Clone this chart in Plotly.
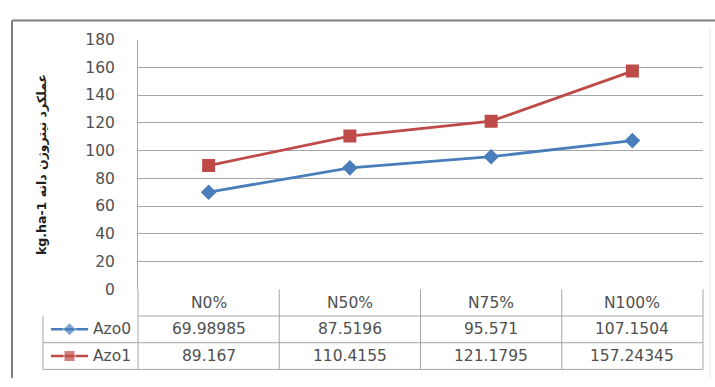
import plotly.graph_objects as go

# Chart data
categories = ["N0%", "N50%", "N75%", "N100%"]
azo0 = [69.98985, 87.5196, 95.571, 107.1504]
azo1 = [89.167, 110.4155, 121.1795, 157.24345]
series_names = ["Azo0", "Azo1"]
y_ticks = [0, 20, 40, 60, 80, 100, 120, 140, 160, 180]
y_title = "kg.ha-1 عملکرد نیتروژن دانه"

W, H = 715, 387
BLUE = "#4A7EBB"
RED = "#BE4B48"
GRID = "#A6A6A6"
TEXT = "#505050"
FONT = "DejaVu Sans"


def px(x):
    return x / W


def py(y):
    return 1 - y / H


# plot area in pixels
PL, PR, PT, PB = 138, 703, 32, 294
# table rows
ROW_Y = [294, 322, 350, 378]
LABEL_L = 43

fig = go.Figure()

series = [(azo0, BLUE, "diamond", 12), (azo1, RED, "square", 13)]
for name, (vals, color, sym, size) in zip(series_names, series):
    fig.add_trace(go.Scatter(
        x=list(range(len(categories))), y=vals, name=name,
        mode="lines+markers",
        line=dict(color=color, width=2.8),
        marker=dict(symbol=sym, size=size, color=color,
                    line=dict(color=color, width=0)),
        showlegend=False, hoverinfo="skip",
    ))

# legend keys inside the table label column (own axes)
for i, (name, (vals, color, sym, size)) in enumerate(zip(series_names, series)):
    fig.add_trace(go.Scatter(
        x=[0, 1, 2], y=[i, i, i], mode="lines+markers",
        line=dict(color=color, width=2.5),
        marker=dict(symbol=sym, size=[0, size - 2, 0], color=color),
        xaxis="x2", yaxis="y2", showlegend=False, hoverinfo="skip",
    ))

shapes = []
# outer frame
shapes.append(dict(type="line", xref="paper", yref="paper",
                   x0=px(12), x1=1, y0=py(12), y1=py(12),
                   line=dict(color="#7F7F7F", width=2)))
shapes.append(dict(type="line", xref="paper", yref="paper",
                   x0=px(12), x1=px(12), y0=py(12), y1=0,
                   line=dict(color="#7F7F7F", width=2)))
shapes.append(dict(type="line", xref="paper", yref="paper",
                   x0=px(710), x1=px(710), y0=py(20), y1=0,
                   line=dict(color="#E4E4E4", width=1)))

# table grid
tcol = dict(color=GRID, width=1)
shapes.append(dict(type="line", xref="paper", yref="paper",
                   x0=px(PL), x1=px(PR), y0=py(ROW_Y[1]), y1=py(ROW_Y[1]), line=tcol))
for ry in ROW_Y[2:]:
    shapes.append(dict(type="line", xref="paper", yref="paper",
                       x0=px(LABEL_L), x1=px(PR), y0=py(ry), y1=py(ry), line=tcol))
shapes.append(dict(type="line", xref="paper", yref="paper",
                   x0=px(LABEL_L), x1=px(LABEL_L), y0=py(ROW_Y[1]), y1=py(ROW_Y[3]), line=tcol))
for k in range(len(categories) + 1):
    xk = PL + (PR - PL) * k / len(categories)
    shapes.append(dict(type="line", xref="paper", yref="paper",
                       x0=px(xk), x1=px(xk), y0=py(ROW_Y[0]), y1=py(ROW_Y[3]), line=tcol))

annotations = []
tf = dict(family=FONT, size=15.5, color=TEXT)
row_centers = [(ROW_Y[i] + ROW_Y[i + 1]) / 2 for i in range(3)]
for i, cat in enumerate(categories):
    for r, txt in enumerate([cat, str(azo0[i]), str(azo1[i])]):
        annotations.append(dict(x=i, y=py(row_centers[r]), xref="x", yref="paper",
                                text=txt, showarrow=False, font=tf,
                                xanchor="center", yanchor="middle"))
for j, name in enumerate(series_names):
    annotations.append(dict(x=px(PL - 5), y=py(row_centers[j + 1]), xref="paper", yref="paper",
                            text=name, showarrow=False, xanchor="right",
                            yanchor="middle", font=tf))

fig.update_layout(
    width=W, height=H,
    margin=dict(l=0, r=0, t=0, b=0),
    paper_bgcolor="white", plot_bgcolor="white",
    font=dict(family=FONT, color=TEXT),
    xaxis=dict(domain=[px(PL), px(PR)], range=[-0.5, len(categories) - 0.5],
               showticklabels=False, showgrid=False, zeroline=False,
               showline=False, fixedrange=True),
    yaxis=dict(domain=[py(PB), py(PT)], range=[0, 180], tickvals=y_ticks,
               ticktext=[str(v) for v in y_ticks],
               tickfont=dict(family=FONT, size=15.5, color=TEXT),
               ticks="", ticklabelstandoff=19,
               showgrid=True, gridcolor=GRID, gridwidth=1.2,
               zeroline=False, showline=True, linecolor=GRID, linewidth=1,
               title=dict(text="<b>" + y_title + "</b>", standoff=35,
                          font=dict(family=FONT, size=12.5, color="#222222"))),
    xaxis2=dict(domain=[px(50), px(89)], range=[-0.05, 2.05],
                visible=False, fixedrange=True, anchor="y2"),
    yaxis2=dict(domain=[py(ROW_Y[3]), py(ROW_Y[1])], range=[1.5, -0.5],
                visible=False, fixedrange=True, anchor="x2"),
    shapes=shapes,
    annotations=annotations,
)

# page without default body margin so the figure sits at the window origin
fig.write_html("out.html", post_script="document.body.style.margin='0';")
